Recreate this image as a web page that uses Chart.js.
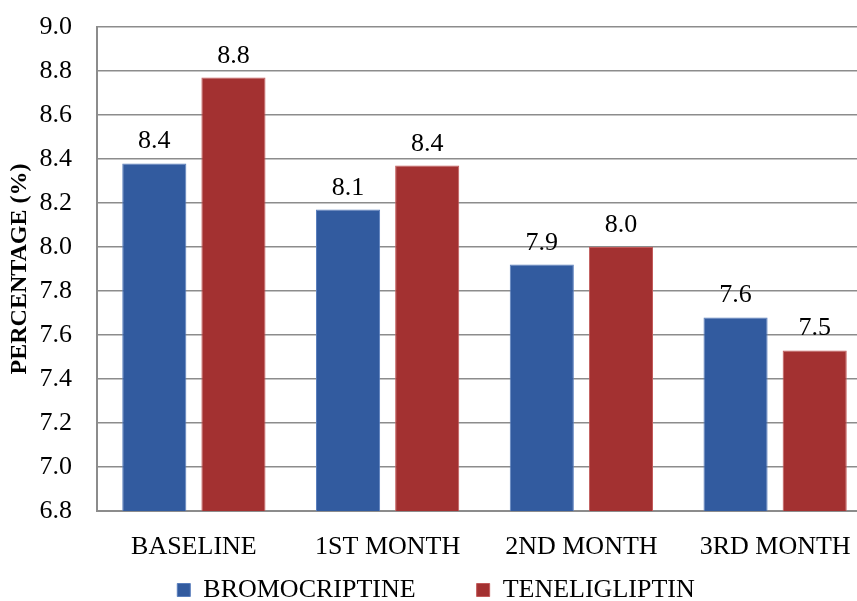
<!DOCTYPE html>
<html>
<head>
<meta charset="utf-8">
<script src="https://cdn.jsdelivr.net/npm/chart.js@4/dist/chart.umd.min.js"></script>
<style>
  html, body { margin: 0; padding: 0; background: #fff; overflow: hidden; }
  #wrap { position: relative; width: 872px; height: 601px; }
</style>
</head>
<body>
<div id="wrap"><canvas id="myChart"></canvas></div>
<script>
// データ
const categories = ['BASELINE', '1ST MONTH', '2ND MONTH', '3RD MONTH'];
const bromocriptine = [8.38, 8.17, 7.92, 7.68];
const teneligliptin = [8.77, 8.37, 8.00, 7.53];
// バーの上に表示するラベル(元の図のまま)
const bromoLabels = ['8.4', '8.1', '7.9', '7.6'];
const teneLabels = ['8.8', '8.4', '8.0', '7.5'];
const yTicks = [6.8, 7.0, 7.2, 7.4, 7.6, 7.8, 8.0, 8.2, 8.4, 8.6, 8.8, 9.0];

const serif = '"Liberation Serif", "Times New Roman", serif';

// バーの上に値を書くプラグイン
const valueLabels = {
  id: 'valueLabels',
  afterDatasetsDraw(chart) {
    const ctx = chart.ctx;
    const texts = [bromoLabels, teneLabels];
    ctx.save();
    ctx.font = '26px ' + serif;
    ctx.fillStyle = '#000';
    ctx.textAlign = 'center';
    ctx.textBaseline = 'alphabetic';
    chart.data.datasets.forEach((ds, i) => {
      chart.getDatasetMeta(i).data.forEach((bar, j) => {
        ctx.fillText(texts[i][j], bar.x, bar.y - 15);
      });
    });
    ctx.restore();
  }
};

const ctx = document.getElementById('myChart').getContext('2d');

new Chart(ctx, {
  type: 'bar',
  data: {
    labels: categories,
    datasets: [
      {
        label: 'BROMOCRIPTINE',
        data: bromocriptine,
        backgroundColor: '#325b9f',
        borderColor: '#5a7fbd',
        borderWidth: 1,
        categoryPercentage: 0.817,
        barPercentage: 0.81
      },
      {
        label: 'TENELIGLIPTIN',
        data: teneligliptin,
        backgroundColor: '#a33131',
        borderColor: '#c25a5a',
        borderWidth: 1,
        categoryPercentage: 0.817,
        barPercentage: 0.81
      }
    ]
  },
  options: {
    responsive: true,
    maintainAspectRatio: false,
    animation: false,
    layout: {
      padding: { top: 0, left: 0, right: 0, bottom: 0 }
    },
    scales: {
      x: {
        grid: { display: false },
        border: { display: true, color: '#8c8c8c', width: 2 },
        afterFit(axis) {
          axis.height = 44;
        },
        ticks: {
          color: '#000',
          font: { family: serif, size: 26 },
          padding: 13,
          maxRotation: 0
        }
      },
      y: {
        min: 6.8,
        max: 9.0,
        afterBuildTicks(axis) {
          axis.ticks = yTicks.map(v => ({ value: v }));
        },
        afterFit(axis) {
          axis.width = 97;
          axis.paddingTop = 27;
        },
        border: { display: true, color: '#8c8c8c', width: 2 },
        grid: {
          display: true,
          color: '#8c8c8c',
          lineWidth: 1.5,
          drawTicks: false
        },
        ticks: {
          color: '#000',
          font: { family: serif, size: 26 },
          padding: 25,
          callback: v => Number(v).toFixed(1)
        },
        title: {
          display: true,
          text: 'PERCENTAGE (%)',
          color: '#000',
          font: { family: serif, size: 24, weight: 'bold' },
          padding: { top: 5, bottom: 0 }
        }
      }
    },
    plugins: {
      legend: {
        position: 'bottom',
        maxHeight: 46,
        labels: {
          color: '#000',
          font: { family: serif, size: 26 },
          boxWidth: 13,
          boxHeight: 13,
          padding: 22,
          // 凡例の項目の間を少し広げる
          generateLabels(chart) {
            const items = Chart.defaults.plugins.legend.labels.generateLabels(chart);
            items[0].text = items[0].text + '\u00a0'.repeat(6);
            return items;
          }
        }
      },
      tooltip: { enabled: false }
    }
  },
  plugins: [valueLabels]
});
</script>
</body>
</html>
